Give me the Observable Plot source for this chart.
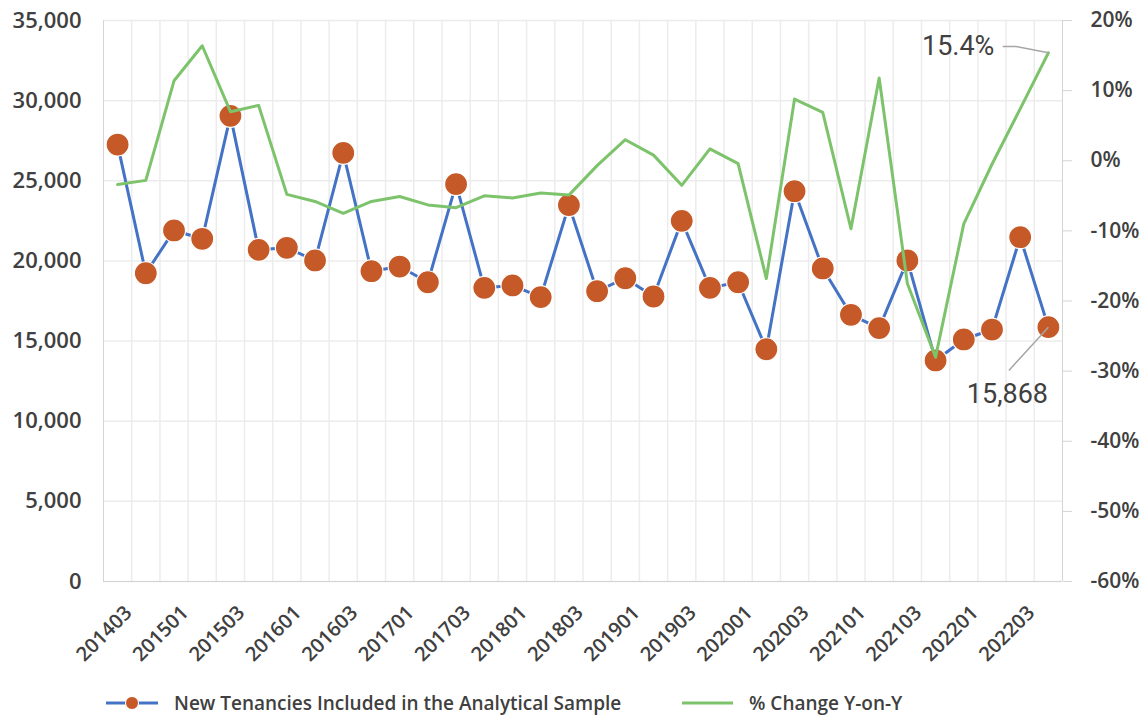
<!DOCTYPE html>
<html><head><meta charset="utf-8">
<script src="https://cdn.jsdelivr.net/npm/d3@7"></script>
<script src="https://cdn.jsdelivr.net/npm/@observablehq/plot@0.6"></script>
<style>
html,body{margin:0;padding:0;background:#fff;}
#chart{width:1143px;height:670px;}
.legend{position:relative;width:1143px;height:48px;font-family:"Open Sans",Roboto,sans-serif;font-weight:600;font-size:19px;color:#404040;}
.legend .txt{position:absolute;top:21px;line-height:24px;white-space:nowrap;}
.legend svg{position:absolute;top:21px;}
</style></head><body>
<div id="chart"></div>
<div class="legend" id="legend"></div>
<script>
// Quarter labels (YYYY0Q)
const periods = [
  "201403","201404",
  "201501","201502","201503","201504",
  "201601","201602","201603","201604",
  "201701","201702","201703","201704",
  "201801","201802","201803","201804",
  "201901","201902","201903","201904",
  "202001","202002","202003","202004",
  "202101","202102","202103","202104",
  "202201","202202","202203","202204"
];
// New tenancies included in the analytical sample (left axis)
const tenancies = [
  27260, 19230,
  21900, 21380, 29050, 20690,
  20820, 20030, 26740, 19360,
  19650, 18670, 24790, 18320,
  18470, 17740, 23480, 18110,
  18920, 17780, 22500, 18320,
  18670, 14490, 24350, 19530,
  16640, 15810, 20030, 13790,
  15100, 15720, 21480, 15868
];
// % change year-on-year (right axis)
const pctChange = [
  -3.4, -2.8,
  11.4, 16.4, 7.0, 7.9,
  -4.8, -5.8, -7.5, -5.8,
  -5.1, -6.3, -6.7, -5.0,
  -5.3, -4.6, -4.9, -0.7,
  3.0, 0.8, -3.5, 1.7,
  -0.4, -16.8, 8.8, 6.9,
  -9.7, 11.8, -17.5, -28.0,
  -9.0, -0.5, 7.4, 15.4
];
const xTickLabels = ["201403","201501","201503","201601","201603","201701","201703","201801","201803","201901","201903","202001","202003","202101","202103","202201","202203"];
const leftTicks = [0, 5000, 10000, 15000, 20000, 25000, 30000, 35000];
const rightTicks = [-60, -50, -40, -30, -20, -10, 0, 10, 20];
const seriesNames = ["New Tenancies Included in the Analytical Sample", "% Change Y-on-Y"];
const colors = {blue: "#4472C4", orange: "#C55A28", green: "#7DC36B", grid: "#ECECEC", axis: "#D4D4D4", text: "#404040", note: "#A6A6A6"};

// Callouts on the last point
const pctCallout = {label: "15.4%"};
const numCallout = {label: "15,868"};

const leftMax = 35000, rightMin = -60, rightMax = 20;
const toLeft = p => (p - rightMin) / (rightMax - rightMin) * leftMax;

const data = periods.map((p, i) => ({i, p, n: tenancies[i], pct: pctChange[i], pctY: toLeft(pctChange[i])}));
const last = data[data.length - 1];
const bounds = d3.range(0.5, periods.length - 1, 1);
const xTickIdx = xTickLabels.map(l => periods.indexOf(l));
const tickFont = "'Open Sans', Roboto, sans-serif";

const chart = Plot.plot({
  width: 1143,
  height: 670,
  marginLeft: 103,
  marginRight: 81,
  marginTop: 20,
  marginBottom: 89,
  style: {fontFamily: "Roboto, 'Open Sans', sans-serif", color: colors.text, background: "white", overflow: "visible"},
  x: {type: "linear", domain: [-0.5, periods.length - 0.5], axis: null},
  y: {domain: [0, leftMax]},
  marks: [
    Plot.gridY(leftTicks, {stroke: colors.grid, strokeOpacity: 1, strokeWidth: 1.5}),
    Plot.gridX(bounds, {stroke: colors.grid, strokeOpacity: 1, strokeWidth: 1.5}),
    Plot.ruleX([-0.5, periods.length - 0.5], {stroke: colors.axis}),
    Plot.ruleY([0], {stroke: colors.axis}),
    Plot.axisY(leftTicks, {anchor: "left", tickSize: 0, tickPadding: 22, tickFormat: d3.format(","), fontFamily: tickFont, fontSize: 22, fontWeight: 600, fill: colors.text, label: null}),
    Plot.axisY(rightTicks.map(toLeft), {anchor: "right", tickSize: 9, tickPadding: 19, stroke: colors.axis, fill: colors.text,
      tickFormat: v => Math.round(v / leftMax * (rightMax - rightMin) + rightMin) + "%", fontFamily: tickFont, fontSize: 21, fontWeight: 600, label: null}),
    // x tick labels (every other quarter), rotated
    Plot.text(xTickIdx, {x: d => d, frameAnchor: "bottom", text: i => periods[i], rotate: -45, textAnchor: "end", lineAnchor: "middle",
      dx: 11, dy: 28, fontFamily: tickFont, fontSize: 20, fontWeight: 600, fill: colors.text}),
    Plot.line(data, {x: "i", y: "n", stroke: colors.blue, strokeWidth: 3}),
    Plot.dot(data, {x: "i", y: "n", r: 11.5, fill: colors.orange, stroke: "white", strokeWidth: 1.2}),
    Plot.line(data, {x: "i", y: "pctY", stroke: colors.green, strokeWidth: 3}),
    // callout leaders (data space, relative to the last point)
    Plot.line([{x: last.i - 1.6, y: toLeft(last.pct + 0.9)}, {x: last.i - 1.15, y: toLeft(last.pct + 0.9)}, {x: last.i, y: last.pctY}], {x: "x", y: "y", stroke: colors.note, strokeWidth: 1.5}),
    Plot.link([last], {x1: d => d.i - 1.4, y1: d => d.n - 2700, x2: "i", y2: "n", stroke: colors.note, strokeWidth: 1.5}),
    Plot.text([last], {x: "i", y: "pctY", text: () => pctCallout.label, textAnchor: "end", dx: -54, dy: -6, fontSize: 27, fill: colors.text}),
    Plot.text([last], {x: "i", y: "n", text: () => numCallout.label, textAnchor: "middle", dx: -41, dy: 67, fontSize: 27, fill: colors.text})
  ]
});
document.getElementById("chart").appendChild(chart);

// Legend (below the SVG)
const legend = document.getElementById("legend");
legend.innerHTML = `
  <svg width="54" height="24" style="left:105px"><line x1="1" x2="53" y1="12" y2="12" stroke="${colors.blue}" stroke-width="3"/><circle cx="27" cy="12" r="6.5" fill="${colors.orange}" stroke="white" stroke-width="1"/></svg>
  <span class="txt" style="left:174px">${seriesNames[0]}</span>
  <svg width="54" height="24" style="left:681px"><line x1="1" x2="52" y1="12" y2="12" stroke="${colors.green}" stroke-width="3"/></svg>
  <span class="txt" style="left:749px">${seriesNames[1]}</span>`;
</script>
</body></html>
